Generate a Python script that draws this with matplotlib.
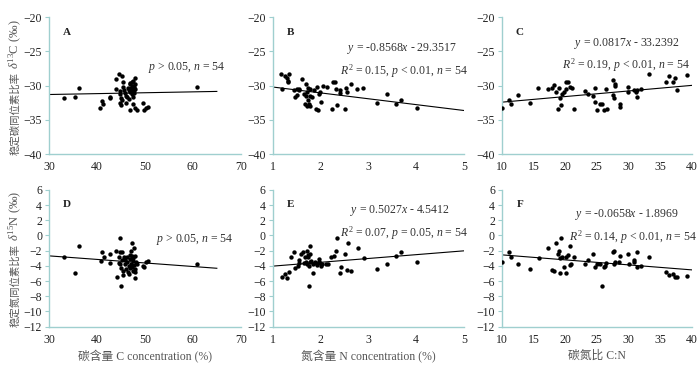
import matplotlib
matplotlib.use("Agg")
import matplotlib.pyplot as plt
import numpy as np

plt.rcParams['font.family'] = ['Liberation Serif', 'Noto Sans CJK SC', 'DejaVu Sans']
plt.rcParams['mathtext.fontset'] = 'custom'
plt.rcParams['mathtext.rm'] = 'Liberation Serif'
plt.rcParams['mathtext.it'] = 'Liberation Serif:italic'
plt.rcParams['mathtext.bf'] = 'Liberation Serif:bold'

# ---------------- data ----------------
# Panel A: C concentration vs d13C
a_x = [33.1, 35.4, 36.3, 40.7, 41.1, 41.3, 42.7, 42.7, 43.9, 44.0, 44.5, 44.8, 44.9, 45.0,
       45.1, 45.3, 45.4, 45.5, 45.7, 45.9, 46.0, 46.2, 46.4, 46.6, 46.8, 46.9, 47.1, 47.3,
       47.4, 47.5, 47.5, 47.6, 47.7, 47.8, 47.9, 47.9, 47.9, 48.0, 46.9, 48.4, 49.6, 49.9,
       50.2, 50.6, 60.8, 47.3, 46.6, 46.1, 44.9, 47.8, 47.5, 46.8, 45.2, 47.2]
a_y = [-31.8, -31.7, -30.3, -33.3, -32.2, -32.7, -31.6, -31.8, -29.1, -30.5, -28.3, -30.8, -32.6, -32.8,
       -31.8, -28.6, -29.5, -30.2, -30.7, -31.1, -32.6, -31.6, -30.3, -30.7, -29.6, -31.0, -30.3, -29.5,
       -31.2, -30.0, -32.7, -29.4, -30.6, -31.1, -33.3, -29.7, -28.9, -30.5, -33.5, -33.5, -32.5, -33.5,
       -33.3, -33.1, -30.2, -30.2, -32.0, -31.5, -31.3, -30.2, -31.7, -29.8, -32.1, -30.8]

# Panel B: N concentration vs d13C
b_x = [1.18, 1.20, 1.26, 1.29, 1.31, 1.35, 1.33, 1.45, 1.47, 1.51, 1.54, 1.56, 1.61, 1.67,
       1.70, 1.70, 1.72, 1.73, 1.74, 1.75, 1.77, 1.78, 1.79, 1.83, 1.91, 1.94, 1.93, 1.97,
       1.99, 2.02, 2.06, 2.14, 2.24, 2.27, 2.30, 2.33, 2.34, 2.40, 2.41, 2.51, 2.54, 2.56,
       2.63, 2.77, 2.90, 3.18, 3.39, 3.59, 3.68, 4.03, 1.65, 1.86, 1.71, 1.50]
b_y = [-28.37, -30.51, -28.56, -28.95, -29.34, -28.27, -29.44, -30.71, -31.68, -30.51, -30.71, -30.51,
       -29.05, -32.75, -29.83, -31.58, -30.90, -30.32, -32.07, -32.65, -30.51, -31.58, -33.04, -31.68,
       -33.43, -33.63, -30.22, -31.19, -30.90, -32.36, -30.12, -30.22, -33.43, -29.44, -29.44, -30.51,
       -32.85, -30.71, -31.09, -33.43, -30.32, -31.00, -29.83, -30.51, -30.32, -32.55, -31.29, -32.75,
       -32.17, -33.33, -31.29, -30.71, -32.95, -31.39]

# Panel C: C:N vs d13C
c_x = [10.0, 11.16, 11.48, 12.59, 14.49, 15.76, 17.29, 17.98, 18.29, 18.61, 18.82, 19.03, 19.14,
       19.30, 19.56, 19.83, 20.09, 20.20, 20.51, 20.83, 21.09, 21.46, 23.15, 23.58, 24.47, 24.69,
       24.79, 25.11, 25.48, 25.90, 26.16, 26.43, 26.59, 27.54, 27.64, 27.75, 27.86, 27.91, 28.65,
       28.70, 30.02, 30.02, 30.92, 31.13, 31.29, 31.40, 31.92, 33.19, 35.88, 36.47, 37.10, 37.42,
       37.73, 39.27]
c_y = [-33.33, -32.17, -32.75, -31.39, -32.55, -30.36, -30.51, -30.36, -29.88, -30.90, -33.43, -30.36,
       -31.78, -32.85, -31.29, -31.00, -29.44, -30.51, -29.44, -30.22, -30.32, -33.43, -30.80, -31.29,
       -31.58, -32.46, -30.32, -33.63, -32.75, -32.65, -33.53, -30.51, -33.43, -29.15, -31.39, -31.78,
       -30.03, -29.73, -32.75, -33.14, -30.22, -30.90, -30.61, -30.90, -31.68, -30.61, -30.51, -28.37,
       -29.54, -28.56, -29.54, -28.95, -30.61, -28.47]

# Panel D: C concentration vs d15N
d_x = [33.1, 35.4, 36.3, 40.8, 41.1, 41.4, 42.7, 42.7, 43.9, 44.1, 44.5, 44.8, 44.9, 45.0,
       44.9, 45.1, 45.3, 45.4, 45.5, 45.7, 45.9, 46.0, 46.2, 46.4, 46.6, 46.6, 46.8, 46.9,
       47.1, 47.1, 47.3, 47.3, 47.4, 47.5, 47.6, 47.7, 47.8, 47.9, 47.9, 47.9, 48.0, 48.2,
       48.4, 49.6, 49.9, 50.2, 50.6, 60.8, 44.5, 46.8, 45.2, 45.8, 47.5, 46.2]
d_y = [-2.82, -4.97, -1.33, -3.39, -2.21, -2.78, -2.47, -3.66, -2.03, -5.50, -2.78, -2.12, -0.37, -6.60,
       -3.79, -4.23, -3.22, -5.19, -4.62, -2.82, -3.79, -4.40, -3.44, -4.75, -4.05, -5.11, -3.09, -2.56,
       -2.03, -3.70, -0.94, -4.14, -2.74, -3.35, -4.67, -3.88, -1.64, -4.45, -2.74, -5.55, -4.84, -3.53,
       -3.79, -3.97, -4.10, -3.53, -3.39, -3.79, -3.66, -4.32, -2.21, -3.26, -3.00, -2.90]

# Panel E: N concentration vs d15N
e_x = [1.19, 1.26, 1.30, 1.35, 1.38, 1.45, 1.47, 1.52, 1.54, 1.56, 1.60, 1.63, 1.67, 1.70,
       1.71, 1.72, 1.73, 1.74, 1.75, 1.76, 1.77, 1.78, 1.79, 1.81, 1.85, 1.91, 1.93, 1.97,
       1.99, 2.02, 2.04, 2.15, 2.23, 2.28, 2.32, 2.34, 2.40, 2.42, 2.51, 2.56, 2.57, 2.64,
       2.78, 2.91, 3.19, 3.39, 3.59, 3.68, 4.03, 1.84, 1.89, 1.65, 2.12, 1.96]
e_y = [-5.41, -5.11, -5.55, -4.75, -2.78, -2.12, -4.23, -3.97, -3.18, -3.61, -2.47, -2.21, -2.82, -3.53,
       -2.03, -3.70, -2.82, -2.56, -6.60, -3.97, -1.33, -3.53, -2.47, -3.35, -4.97, -3.66, -3.88, -3.13,
       -3.66, -3.97, -3.70, -3.79, -2.78, -2.74, -2.03, -0.37, -4.89, -4.14, -2.43, -4.58, -1.02, -4.62,
       -1.59, -3.00, -4.45, -3.70, -2.74, -2.17, -3.44, -3.79, -3.53, -3.61, -3.70, -3.44]

# Panel F: C:N vs d15N
f_x = [10.0, 11.11, 11.48, 12.59, 14.49, 15.81, 17.29, 17.98, 18.29, 18.61, 18.82, 18.98, 19.14,
       19.25, 19.30, 19.56, 19.83, 20.09, 20.14, 20.41, 20.72, 20.99, 21.46, 23.15, 23.58, 24.37,
       24.69, 25.11, 25.48, 25.90, 26.16, 26.38, 26.43, 27.54, 27.70, 27.80, 27.96, 28.54, 28.70,
       30.00, 30.05, 30.87, 30.92, 31.29, 31.29, 31.92, 33.19, 35.88, 36.41, 36.99, 37.36, 37.73,
       39.27, 20.72]
f_y = [-3.44, -2.21, -2.78, -3.70, -4.45, -3.00, -1.68, -4.58, -4.62, -1.02, -2.38, -2.03, -2.91,
       -4.97, -0.37, -2.82, -4.14, -4.93, -2.78, -2.56, -1.33, -3.79, -2.82, -3.79, -3.18, -2.43,
       -4.14, -3.79, -3.70, -6.60, -4.18, -3.97, -3.61, -2.21, -2.03, -3.79, -3.53, -3.44, -2.65,
       -2.43, -3.79, -3.26, -3.53, -2.12, -4.14, -4.05, -2.82, -4.75, -5.19, -5.02, -5.46, -5.46,
       -5.37, -3.88]

# regression lines: slope, intercept, x-range
fit_slope = [0.0129, -0.8568, 0.0817, -0.0466, 0.5027, -0.0658]
fit_intercept = [-31.69, -29.3517, -33.2392, -1.29, -4.5412, -1.8969]
fit_xrange = [(30, 65), (1, 5), (10, 40), (30, 65), (1, 5), (10, 40)]

panel_letters = ['A', 'B', 'C', 'D', 'E', 'F']
eq_text = [None, r'$y$ = -0.8568$x$ - 29.3517', r'$y$ = 0.0817$x$ - 33.2392',
           None, r'$y$ = 0.5027$x$ - 4.5412', r'$y$ = -0.0658$x$ - 1.8969']
stat_text = [r'$p$ > 0.05, $n$ = 54',
             r'$R^2$ = 0.15, $p$ < 0.01, $n$ = 54',
             r'$R^2$ = 0.19, $p$ < 0.01, $n$ = 54',
             r'$p$ > 0.05, $n$ = 54',
             r'$R^2$ = 0.07, $p$ = 0.05, $n$ = 54',
             r'$R^2$ = 0.14, $p$ < 0.01, $n$ = 54']

x_ticks = [[30, 40, 50, 60, 70], [1, 2, 3, 4, 5], [10, 15, 20, 25, 30, 35, 40]]
y_ticks_top = [-40, -35, -30, -25, -20]
y_ticks_bot = [-12, -10, -8, -6, -4, -2, 0, 2, 4, 6]
x_labels = ['碳含量 C concentration (%)', '氮含量 N concentration (%)', '碳氮比 C:N']
y_labels_cjk = ['稳定碳同位素比率', '稳定氮同位素比率']
y_labels_sym = [r' $\delta^{13}$C (‰)', r' $\delta^{15}$N (‰)']

xs = [a_x, b_x, c_x, d_x, e_x, f_x]
ys = [a_y, b_y, c_y, d_y, e_y, f_y]


def minus(v):
    return ('−' + str(abs(v))) if v < 0 else str(v)


# ---------------- figure ----------------
fig = plt.figure(figsize=(7, 3.65), dpi=100)
spine_c = '#9fcfcf'
lefts = [0.070, 0.3896, 0.717]
widths = [0.274, 0.273, 0.271]
bottoms = [0.578, 0.105]
height = 0.375
label_c = '#555555'

# text positions (axes coords)
eq_pos = [None, (0.677, 0.774), (0.66, 0.81), None, (0.665, 0.846), (0.66, 0.816)]
stat_pos = [(0.92, 0.63), (1.02, 0.606), (0.99, 0.65), (0.96, 0.64), (1.02, 0.68), (1.03, 0.655)]
ylab_start = [-0.005, 0.0]

for i in range(6):
    row, col = divmod(i, 3)
    ax = fig.add_axes([lefts[col], bottoms[row], widths[col], height])
    ax.scatter(xs[i], ys[i], s=10, color='black', zorder=3, linewidths=0)
    x0, x1 = fit_xrange[i]
    lx = np.array([x0, x1])
    ax.plot(lx, fit_slope[i] * lx + fit_intercept[i], color='black', lw=0.8, zorder=2)
    xt = x_ticks[col]
    ax.set_xlim(xt[0], xt[-1])
    ax.set_xticks(xt)
    yt = y_ticks_top if row == 0 else y_ticks_bot
    ax.set_ylim(yt[0], yt[-1])
    ax.set_yticks(yt)
    ax.set_yticklabels([minus(v) for v in yt])
    for s in ['top', 'right']:
        ax.spines[s].set_visible(False)
    for s in ['left', 'bottom']:
        ax.spines[s].set_color(spine_c)
        ax.spines[s].set_linewidth(1.0)
    ax.tick_params(axis='y', direction='out', length=3, width=0.8, color=spine_c,
                   labelsize=8.5, labelcolor='#222222', pad=2)
    ax.tick_params(axis='x', length=0, labelsize=8.5, labelcolor='#222222', pad=5)
    ax.text(0.094, 0.89, panel_letters[i], transform=ax.transAxes, fontsize=8,
            fontweight='bold', ha='center', va='center', color='#222222')
    if eq_text[i]:
        ax.text(eq_pos[i][0], eq_pos[i][1], eq_text[i], transform=ax.transAxes,
                fontsize=8.5, ha='center', va='center', color='#333333')
    ax.text(stat_pos[i][0], stat_pos[i][1], stat_text[i], transform=ax.transAxes,
            fontsize=8.5, ha='right', va='center', color='#333333')
    if col == 0:
        t1 = ax.text(-0.157, ylab_start[row], y_labels_cjk[row], transform=ax.transAxes,
                     rotation=90, rotation_mode='anchor', ha='left', va='baseline',
                     fontsize=7.5, color=label_c, family=['Noto Sans CJK SC'])
        ax.annotate(y_labels_sym[row], xy=(-0.157, 1.0), xycoords=('axes fraction', t1),
                    rotation=90, rotation_mode='anchor', ha='left', va='baseline',
                    fontsize=9, color=label_c, annotation_clip=False)
    if row == 1:
        ax.set_xlabel(x_labels[col], fontsize=8.5, color=label_c, labelpad=3)

fig.savefig('out.png', dpi=100)
